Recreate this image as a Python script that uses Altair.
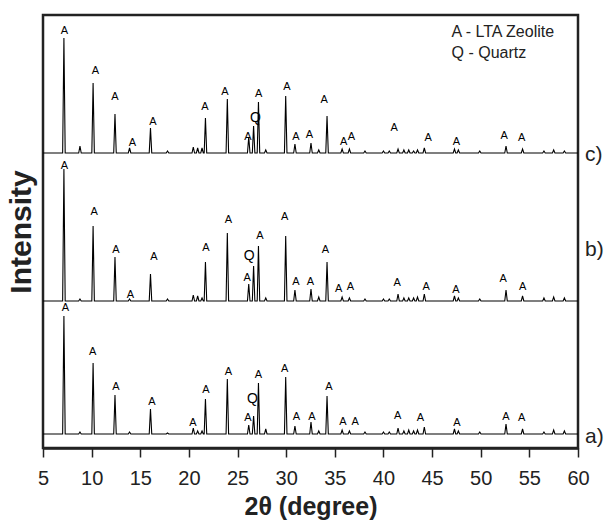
import altair as alt
import pandas as pd

# ---------------- data ----------------
TICKS = [5, 7.5, 10, 12.5, 15, 17.5, 20, 22.5, 25, 27.5, 30, 32.5, 35, 37.5,
         40, 42.5, 45, 47.5, 50, 52.5, 55, 57.5, 60]

TRACES = ["a)", "b)", "c)"]
OFFSETS = [14, 147, 295]          # baseline of each pattern (a.u.)
NAME_Y = [11, 198, 293]           # where the a) b) c) tags sit

PEAK_POS = [7.15, 8.8, 10.15, 12.4, 13.9, 16.05, 17.8, 20.45, 20.9, 21.35,
            21.7, 23.95, 26.15, 26.65, 27.15, 27.9, 29.95, 30.9, 32.55, 33.35,
            34.2, 35.75, 36.5, 38.1, 40.0, 40.6, 41.5, 42.1, 42.6, 43.1,
            43.5, 44.2, 47.3, 47.7, 49.9, 52.6, 54.3, 56.5, 57.5, 58.6]

H_A = [118, 2, 71, 39, 2, 25, 1, 6, 3, 3,
       35, 55, 9, 18, 51, 5, 57, 8, 12, 3,
       38, 4, 3, 2, 2, 2, 6, 3, 4, 3,
       4, 7, 5, 3, 2, 10, 5, 2, 4, 3]
H_B = [132, 2, 75, 44, 2, 27, 2, 6, 5, 3,
       39, 68, 17, 35, 55, 3, 65, 11, 12, 4,
       39, 4, 3, 2, 2, 2, 7, 3, 3, 3,
       4, 7, 5, 3, 2, 11, 5, 3, 4, 3]
H_C = [115, 7, 70, 39, 5, 25, 2, 6, 5, 5,
       35, 54, 16, 27, 51, 3, 57, 9, 10, 3,
       37, 4, 4, 2, 2, 2, 4, 3, 3, 2,
       3, 5, 4, 3, 2, 7, 4, 2, 3, 2]
HEIGHTS = {"a)": H_A, "b)": H_B, "c)": H_C}

# "A" reflection tags: (2theta, height above the pattern's baseline)
A_TAGS = {
    "a)": [(7.3, 126), (10.1, 82), (12.5, 47), (16.2, 32), (20.4, 11),
           (21.75, 44), (24.05, 62), (26.07, 16), (27.15, 59), (29.85, 65),
           (31.06, 17), (32.65, 17), (34.4, 47), (35.83, 12), (37.1, 12),
           (41.45, 18), (43.8, 16), (47.55, 11), (52.6, 17), (54.2, 16)],
    "b)": [(7.2, 135), (10.27, 89), (12.5, 51), (14.0, 6), (16.4, 44),
           (21.75, 53), (24.05, 81), (26.0, 23), (27.3, 65), (29.85, 84),
           (31.0, 19), (32.5, 19), (34.04, 51), (35.4, 12), (36.6, 14),
           (41.4, 18), (44.4, 14), (47.45, 11), (52.3, 22), (54.3, 14)],
    "c)": [(7.2, 122), (10.4, 82), (12.4, 56), (14.2, 10), (16.3, 31),
           (21.65, 46), (23.7, 61), (26.07, 16), (27.16, 59), (30.07, 66),
           (31.0, 16), (32.4, 18), (33.9, 53), (35.9, 11), (36.7, 16),
           (41.1, 25), (44.6, 15), (47.5, 11), (52.4, 17), (54.2, 15)],
}
Q_TAGS = {"a)": (26.54, 35), "b)": (26.2, 45), "c)": (26.85, 35)}

LEGEND_LINES = ["A - LTA Zeolite", "Q - Quartz"]
LEGEND_X = 47.0
LEGEND_Y = [416, 395]

HALF = 0.13   # half width of a drawn reflection (degrees)
FONT = "Liberation Sans"

# ---------------- tables ----------------
rows = []
for name, off in zip(TRACES, OFFSETS):
    pts = [(TICKS[0], 0)]
    for p, h in zip(PEAK_POS, HEIGHTS[name]):
        pts += [(p - HALF, 0), (p, h), (p + HALF, 0)]
    pts.append((TICKS[-1], 0))
    for i, (x, h) in enumerate(pts):
        rows.append({"trace": name, "i": i, "x": x, "y": off + h})
line_df = pd.DataFrame(rows)

a_rows, q_rows = [], []
for name, off in zip(TRACES, OFFSETS):
    for x, h in A_TAGS[name]:
        a_rows.append({"x": x, "y": off + h, "t": "A"})
    qx, qh = Q_TAGS[name]
    q_rows.append({"x": qx, "y": off + qh, "t": "Q"})
a_df = pd.DataFrame(a_rows)
q_df = pd.DataFrame(q_rows)

name_df = pd.DataFrame({"x": [TICKS[-1]] * 3, "y": NAME_Y, "t": TRACES})
leg_df = pd.DataFrame({"x": [LEGEND_X] * 2, "y": LEGEND_Y, "t": LEGEND_LINES})

xscale = alt.Scale(domain=[TICKS[0], TICKS[-1]], nice=False, zero=False)
yscale = alt.Scale(domain=[0, 433], nice=False, zero=False)

xaxis = alt.Axis(
    title="2θ (degree)", values=TICKS,
    labelExpr="datum.value % 5 === 0 ? datum.label : ''",
    labelFont=FONT, labelFontSize=20, labelColor="#222", labelFlush=False,
    labelPadding=11,
    tickSize={"condition": {"test": "datum.value % 5 === 0", "value": 9}, "value": 6},
    tickColor="#222", tickWidth=1.5,
    domainColor="#222", domainWidth=2.5, grid=False,
    titleFont=FONT, titleFontSize=25, titleFontWeight="bold", titleColor="#222",
    titlePadding=6,
)
yaxis = alt.Axis(
    title="Intensity", labels=False, ticks=False, domain=False, grid=False,
    titleFont=FONT, titleFontSize=30, titleFontWeight="bold", titleColor="#222",
    titlePadding=7,
)

lines = alt.Chart(line_df).mark_line(color="black", strokeWidth=1.1).encode(
    x=alt.X("x:Q", scale=xscale, axis=xaxis),
    y=alt.Y("y:Q", scale=yscale, axis=yaxis),
    detail="trace:N",
    order="i:Q",
)

a_text = alt.Chart(a_df).mark_text(font=FONT, fontSize=11, color="black",
                                   baseline="middle", align="center").encode(
    x="x:Q", y="y:Q", text="t:N")
q_text = alt.Chart(q_df).mark_text(font=FONT, fontSize=14, color="black",
                                   baseline="middle", align="center").encode(
    x="x:Q", y="y:Q", text="t:N")
names = alt.Chart(name_df).mark_text(font=FONT, fontSize=21, color="#222",
                                     baseline="middle", align="left", dx=7).encode(
    x="x:Q", y="y:Q", text="t:N")
legend = alt.Chart(leg_df).mark_text(font=FONT, fontSize=16, color="#222",
                                     baseline="middle", align="left").encode(
    x="x:Q", y="y:Q", text="t:N")

chart = alt.layer(lines, a_text, q_text, names, legend).properties(
    width=535, height=433,
    background="white",
    autosize=alt.AutoSizeParams(type="none"),
    padding={"left": 43, "top": 15, "right": 28, "bottom": 77},
).configure_view(stroke="#222", strokeWidth=2.5)

chart.save("out.html", embed_options={"renderer": "svg", "actions": False})
